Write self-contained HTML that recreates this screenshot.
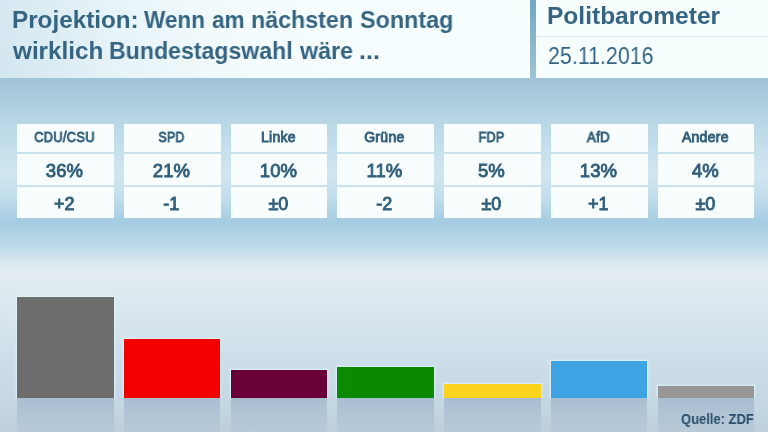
<!DOCTYPE html>
<html><head><meta charset="utf-8">
<style>
*{margin:0;padding:0;box-sizing:border-box}
html,body{width:768px;height:432px;overflow:hidden}
body{position:relative;font-family:"Liberation Sans",sans-serif;color:#366582;
background:linear-gradient(180deg,#a0c4d7 0px,#a0c4d7 78px,#b9d7e6 124px,#c6e0ec 150px,#d0e6f0 175px,#c0dcea 200px,#a4cce2 222px,#bcd9e8 246px,#d3e5ee 260px,#e4eef3 270px,#dce8ef 300px,#c5d8e4 397px,#bcd0dc 432px)}
.abs{position:absolute}
.t,#dt,#src,.cell span{will-change:transform}
#hl{left:0;top:0;width:530px;height:78.4px;background:linear-gradient(78deg,#d3e6ef 0%,#e6f3f8 22%,#f2fafc 42%,#f6fdfe 60%,#f7fefe 100%)}
#sep{left:530px;top:0;width:5.5px;height:78.4px;background:linear-gradient(180deg,#74a6c1,#9dc3d6)}
#hr{left:535.5px;top:0;width:233px;height:78.4px;background:#f6fefe}
#hrline{left:535.5px;top:36px;width:233px;height:1px;background:#d9eaf1}
.t{white-space:nowrap;font-weight:bold;line-height:1}
.tw{font-size:24px;transform-origin:0 0}
#pb{left:547.2px;top:4px;font-size:24px;transform:scaleX(1.022);transform-origin:0 0}
#dt{left:547.7px;top:44.5px;font-size:23.5px;transform:scaleX(0.911);transform-origin:0 0;white-space:nowrap;line-height:1}
.cell{position:absolute;background:#f8fefe;white-space:nowrap;line-height:1}
.cell span{position:absolute;left:0;width:100%;padding-right:2px;text-align:center;font-weight:normal;color:#325f7b;-webkit-text-stroke:0.9px #325f7b}
.r1 span{top:5.5px;font-size:14px;letter-spacing:0.3px}
.r2 span{top:8px;font-size:18.5px}
.r3 span{top:8px;font-size:18px}
.bar{position:absolute;clip-path:inset(-4px -4px 0 -4px);box-shadow:inset 0 0 1px rgba(0,0,0,0.18),0 0 0 1px rgba(225,248,255,0.55),0 0 1px 2px rgba(225,248,255,0.25)}
.refl{position:absolute;top:398px;height:34px;background:linear-gradient(180deg,#a8bed0,#b8cad8)}
#src{left:681.1px;top:412px;font-size:14px;font-weight:bold;transform:scaleX(0.926);transform-origin:0 0;color:#284f6a;white-space:nowrap;line-height:1}

</style></head><body>
<div id="hl" class="abs"></div>
<div id="sep" class="abs"></div>
<div id="hr" class="abs"></div>
<div id="hrline" class="abs"></div>
<div class="abs t tw" style="left:11.98px;top:8px;transform:scaleX(1.0103)">Projektion:</div>
<div class="abs t tw" style="left:144.00px;top:8px;transform:scaleX(0.9391)">Wenn</div>
<div class="abs t tw" style="left:211.86px;top:8px;transform:scaleX(0.9406)">am</div>
<div class="abs t tw" style="left:251.26px;top:8px;transform:scaleX(0.9686)">nächsten</div>
<div class="abs t tw" style="left:360.33px;top:8px;transform:scaleX(0.9731)">Sonntag</div>
<div class="abs t tw" style="left:13.30px;top:38.5px;transform:scaleX(1.0114)">wirklich</div>
<div class="abs t tw" style="left:109.32px;top:38.5px;transform:scaleX(0.9634)">Bundestagswahl</div>
<div class="abs t tw" style="left:300.30px;top:38.5px;transform:scaleX(0.9704)">wäre</div>
<div class="abs t tw" style="left:358.91px;top:38.5px;transform:scaleX(1.0437)">...</div>
<div class="abs t" id="pb">Politbarometer</div>
<div class="abs" id="dt">25.11.2016</div>
<div class="cell r1" style="left:17.00px;top:124px;width:96.75px;height:28px"><span style=transform:scaleX(0.92)>CDU/CSU</span></div>
<div class="cell r2" style="left:17.00px;top:154px;width:96.75px;height:31px"><span>36%</span></div>
<div class="cell r3" style="left:17.00px;top:187px;width:96.75px;height:31px"><span>+2</span></div>
<div class="cell r1" style="left:123.75px;top:124px;width:96.75px;height:28px"><span style=transform:scaleX(0.88)>SPD</span></div>
<div class="cell r2" style="left:123.75px;top:154px;width:96.75px;height:31px"><span>21%</span></div>
<div class="cell r3" style="left:123.75px;top:187px;width:96.75px;height:31px"><span>-1</span></div>
<div class="cell r1" style="left:230.50px;top:124px;width:96.75px;height:28px"><span>Linke</span></div>
<div class="cell r2" style="left:230.50px;top:154px;width:96.75px;height:31px"><span>10%</span></div>
<div class="cell r3" style="left:230.50px;top:187px;width:96.75px;height:31px"><span>±0</span></div>
<div class="cell r1" style="left:337.25px;top:124px;width:96.75px;height:28px"><span>Grüne</span></div>
<div class="cell r2" style="left:337.25px;top:154px;width:96.75px;height:31px"><span>11%</span></div>
<div class="cell r3" style="left:337.25px;top:187px;width:96.75px;height:31px"><span>-2</span></div>
<div class="cell r1" style="left:444.00px;top:124px;width:96.75px;height:28px"><span style=transform:scaleX(0.9)>FDP</span></div>
<div class="cell r2" style="left:444.00px;top:154px;width:96.75px;height:31px"><span>5%</span></div>
<div class="cell r3" style="left:444.00px;top:187px;width:96.75px;height:31px"><span>±0</span></div>
<div class="cell r1" style="left:550.75px;top:124px;width:96.75px;height:28px"><span style=transform:scaleX(0.95)>AfD</span></div>
<div class="cell r2" style="left:550.75px;top:154px;width:96.75px;height:31px"><span>13%</span></div>
<div class="cell r3" style="left:550.75px;top:187px;width:96.75px;height:31px"><span>+1</span></div>
<div class="cell r1" style="left:657.50px;top:124px;width:96.75px;height:28px"><span>Andere</span></div>
<div class="cell r2" style="left:657.50px;top:154px;width:96.75px;height:31px"><span>4%</span></div>
<div class="cell r3" style="left:657.50px;top:187px;width:96.75px;height:31px"><span>±0</span></div>
<div class="bar" style="left:17.00px;top:297px;width:96.5px;height:101px;background:#6d6d6d"></div>
<div class="refl" style="left:17.00px;width:96.5px"></div>
<div class="bar" style="left:123.75px;top:339px;width:96.5px;height:59px;background:#f20000"></div>
<div class="refl" style="left:123.75px;width:96.5px"></div>
<div class="bar" style="left:230.50px;top:370px;width:96.5px;height:28px;background:#6a0038"></div>
<div class="refl" style="left:230.50px;width:96.5px"></div>
<div class="bar" style="left:337.25px;top:367px;width:96.5px;height:31px;background:#0b8a00"></div>
<div class="refl" style="left:337.25px;width:96.5px"></div>
<div class="bar" style="left:444.00px;top:384px;width:96.5px;height:14px;background:#fcd31d"></div>
<div class="refl" style="left:444.00px;width:96.5px"></div>
<div class="bar" style="left:550.75px;top:361px;width:96.5px;height:37px;background:#3ea4e4"></div>
<div class="refl" style="left:550.75px;width:96.5px"></div>
<div class="bar" style="left:657.50px;top:386px;width:96.5px;height:12px;background:#979797"></div>
<div class="refl" style="left:657.50px;width:96.5px"></div>
<div class="abs" id="src">Quelle: ZDF</div>
</body></html>
